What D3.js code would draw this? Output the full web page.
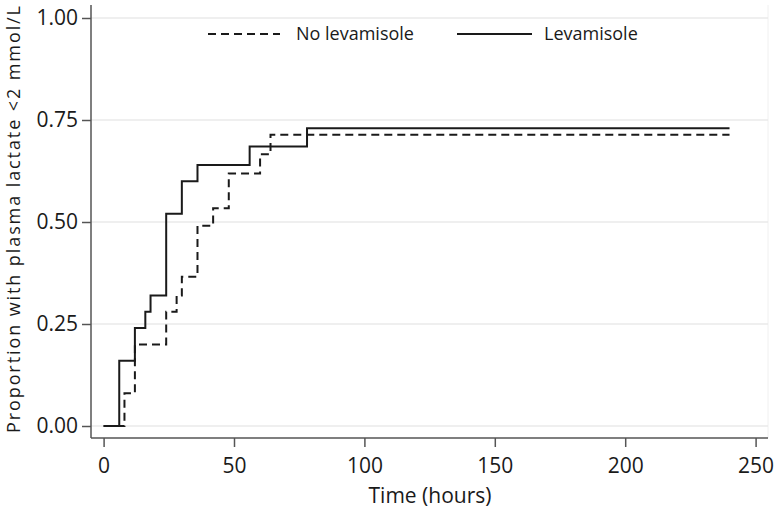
<!DOCTYPE html>
<html>
<head>
<meta charset="utf-8">
<script src="https://cdn.jsdelivr.net/npm/d3@7"></script>
<style>
  body { margin: 0; background: #fff; }
  text { font-family: "Open Sans", "Noto Sans", sans-serif; fill: #1a1a1a; }
</style>
</head>
<body>
<div id="chart"></div>
<script>
// Kaplan-Meier style step data (time in hours, proportion)
const noLevTime = [0, 8, 12, 24, 28, 30, 36, 42, 48, 60, 64, 240];
const noLevProp = [0, 0.08, 0.20, 0.28, 0.32, 0.366, 0.491, 0.534, 0.619, 0.666, 0.714, 0.714];
const levTime = [0, 6, 12, 16, 18, 24, 30, 36, 56, 78, 240];
const levProp = [0, 0.16, 0.24, 0.28, 0.32, 0.52, 0.60, 0.64, 0.685, 0.73, 0.73];

const xTicks = [0, 50, 100, 150, 200, 250];
const yTicks = [0, 0.25, 0.5, 0.75, 1];

const W = 776, H = 510;
const svg = d3.select("#chart").append("svg")
    .attr("width", W)
    .attr("height", H);

// scales
const x = d3.scaleLinear().domain([0, 250]).range([103.6, 755.6]);
const y = d3.scaleLinear().domain([0, 1]).range([426, 18]);

const plotLeft = 91, plotRight = 768, plotTop = 5, plotBottom = 438;

// plot region edge on the right (faint)
svg.append("line")
    .attr("x1", plotRight).attr("x2", plotRight)
    .attr("y1", plotTop).attr("y2", plotBottom)
    .attr("stroke", "#f0f0f0").attr("stroke-width", 1);

// gridlines
svg.append("g")
    .selectAll("line")
    .data(yTicks)
    .enter().append("line")
    .attr("x1", plotLeft)
    .attr("x2", plotRight)
    .attr("y1", d => y(d))
    .attr("y2", d => y(d))
    .attr("stroke", "#eaeaea")
    .attr("stroke-width", 1.5);

// y axis
const yAxis = d3.axisLeft(y)
    .tickValues(yTicks)
    .tickFormat(d3.format(".2f"))
    .tickSize(9)
    .tickPadding(4);
const yAxisGroup = svg.append("g")
    .attr("transform", `translate(${plotLeft},0)`)
    .call(yAxis);
yAxisGroup.select(".domain").remove();
yAxisGroup.append("line")
    .attr("x1", 0).attr("x2", 0)
    .attr("y1", plotTop).attr("y2", plotBottom)
    .attr("stroke", "#555").attr("stroke-width", 1.5);

// x axis
const xAxis = d3.axisBottom(x)
    .tickValues(xTicks)
    .tickSize(9)
    .tickPadding(11);
const xAxisGroup = svg.append("g")
    .attr("transform", `translate(0,${plotBottom})`)
    .call(xAxis);
xAxisGroup.select(".domain").remove();
xAxisGroup.append("line")
    .attr("x1", plotLeft).attr("x2", plotRight)
    .attr("y1", 0).attr("y2", 0)
    .attr("stroke", "#555").attr("stroke-width", 1.5);

svg.selectAll(".tick line").attr("stroke", "#555").attr("stroke-width", 1.5);
svg.selectAll(".tick text")
    .style("font-family", '"Open Sans", "Noto Sans", sans-serif')
    .style("font-size", "21px")
    .attr("fill", "#1a1a1a");

// axis titles
svg.append("text")
    .attr("transform", "rotate(-90)")
    .attr("x", -219.5)
    .attr("y", 19.5)
    .attr("textLength", 427)
    .attr("lengthAdjust", "spacing")
    .style("text-anchor", "middle")
    .style("font-size", "18px")
    .text("Proportion with plasma lactate <2 mmol/L");

svg.append("text")
    .attr("x", 430)
    .attr("y", 503)
    .style("text-anchor", "middle")
    .style("font-size", "21px")
    .text("Time (hours)");

// step lines
const line = d3.line()
    .x(d => x(d[0]))
    .y(d => y(d[1]))
    .curve(d3.curveStepAfter);

svg.append("path")
    .datum(d3.zip(noLevTime, noLevProp))
    .attr("fill", "none")
    .attr("stroke", "#1a1a1a")
    .attr("stroke-width", 2)
    .attr("stroke-dasharray", "8,5")
    .attr("d", line);

svg.append("path")
    .datum(d3.zip(levTime, levProp))
    .attr("fill", "none")
    .attr("stroke", "#1a1a1a")
    .attr("stroke-width", 2)
    .attr("d", line);

// legend
const legend = svg.append("g");
legend.append("line")
    .attr("x1", 208).attr("x2", 280)
    .attr("y1", 34).attr("y2", 34)
    .attr("stroke", "#1a1a1a").attr("stroke-width", 2)
    .attr("stroke-dasharray", "8,5");
legend.append("text")
    .attr("x", 296).attr("y", 40)
    .style("font-size", "18px")
    .text("No levamisole");
legend.append("line")
    .attr("x1", 457).attr("x2", 532)
    .attr("y1", 34).attr("y2", 34)
    .attr("stroke", "#1a1a1a").attr("stroke-width", 2);
legend.append("text")
    .attr("x", 544).attr("y", 40)
    .style("font-size", "18px")
    .text("Levamisole");
</script>
</body>
</html>
